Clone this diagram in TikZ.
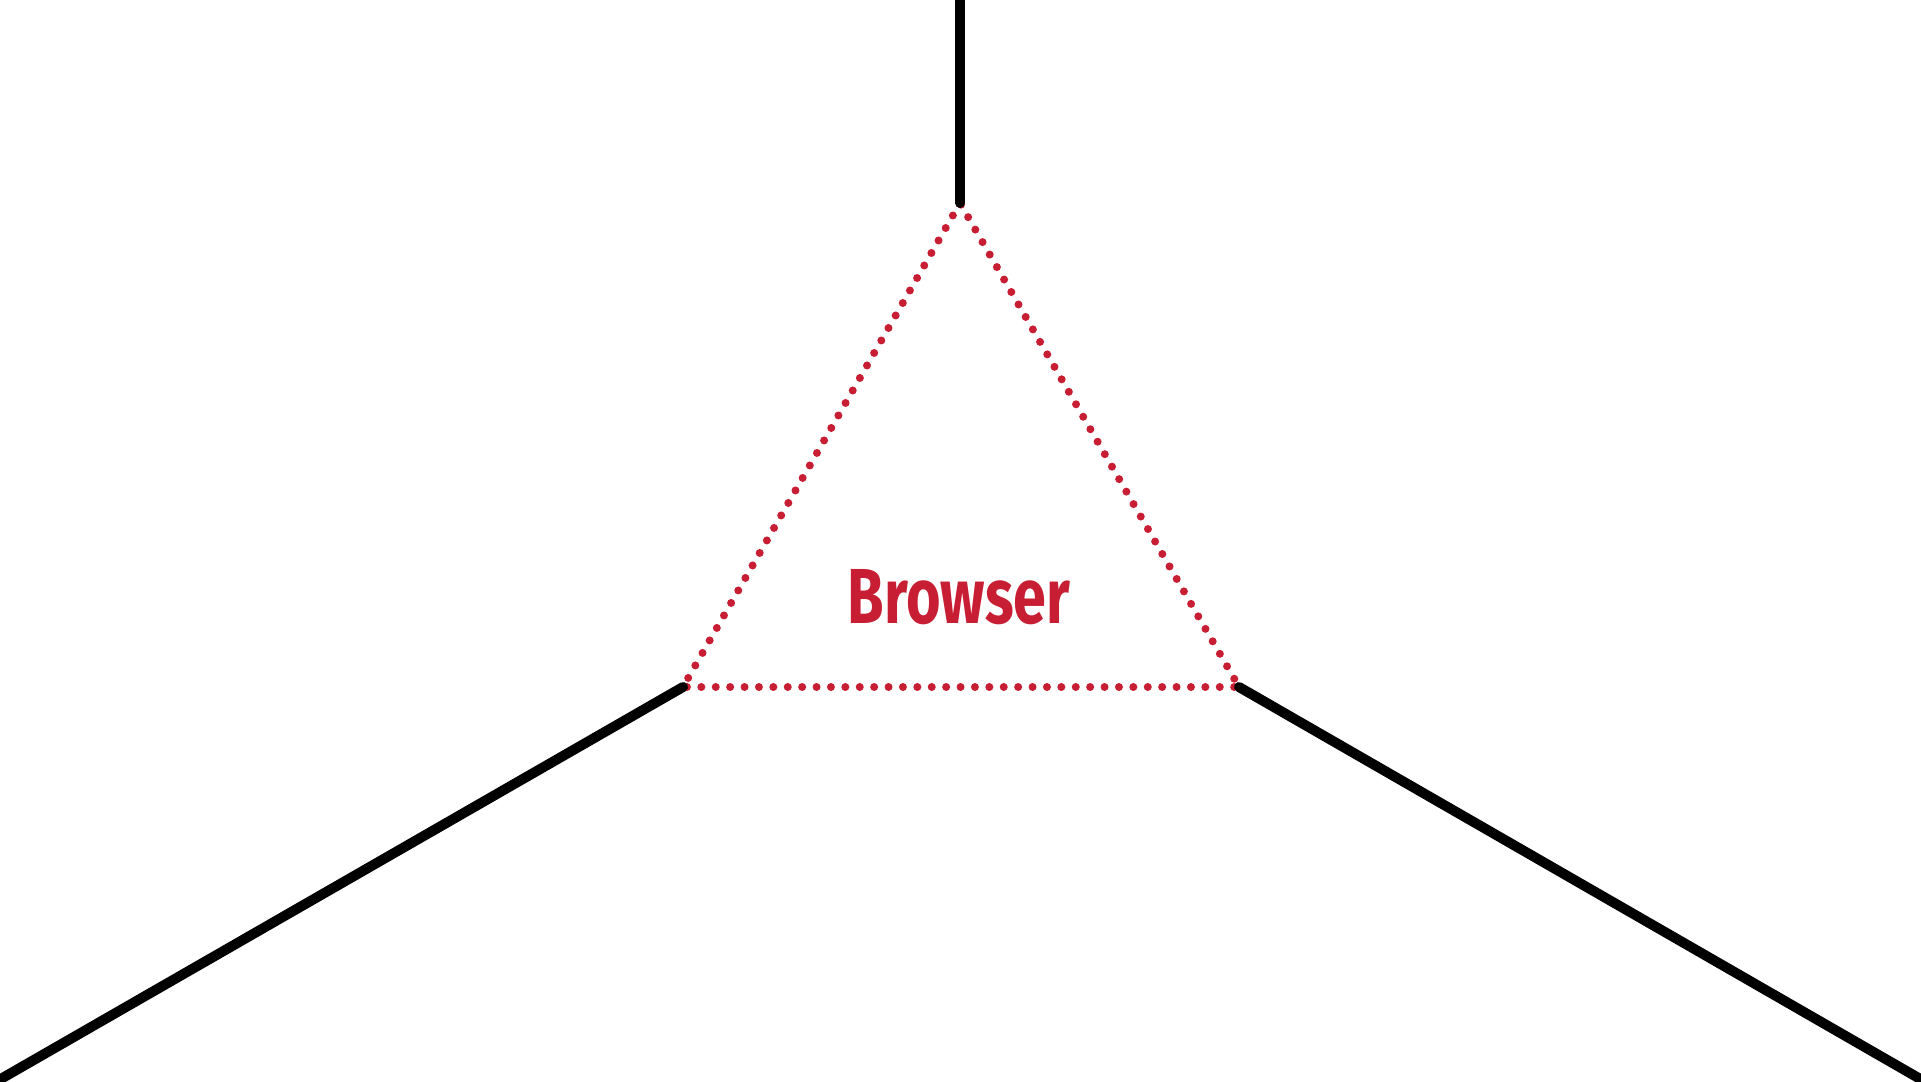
\documentclass[tikz,border=0pt]{standalone}
\usepackage{fontspec}
\newfontfamily\labelfont{Fira Sans}
\definecolor{browserred}{RGB}{200,30,52}
\begin{document}
\begin{tikzpicture}[x=1pt, y=-1pt,
    wire/.style={line width=10pt, line cap=round, black},
    edge/.style={browserred, line width=8pt, line cap=round, dash pattern=on 0pt off 14.4pt},
    every node/.style={font=\labelfont\bfseries}]
                \useasboundingbox (0,0) rectangle (1921,1081);
                \coordinate (top) at (960,203);
                \coordinate (left) at (683,687);
                \coordinate (right) at (1239,687);
                \coordinate (topend) at (960,-10);
                \coordinate (leftend) at (-8,1084);
                \coordinate (rightend) at (1929,1084);
                \draw[edge] (top) -- (left) -- (right) -- cycle;
                \draw[wire] (top) -- (topend);
                \draw[wire] (left) -- (leftend);
                \draw[wire] (right) -- (rightend);
                \node[text=browserred, inner sep=0pt, xscale=0.76] (label) at (959,597) {\fontsize{78}{82}\selectfont Browser};
            \end{tikzpicture}
\end{document}
